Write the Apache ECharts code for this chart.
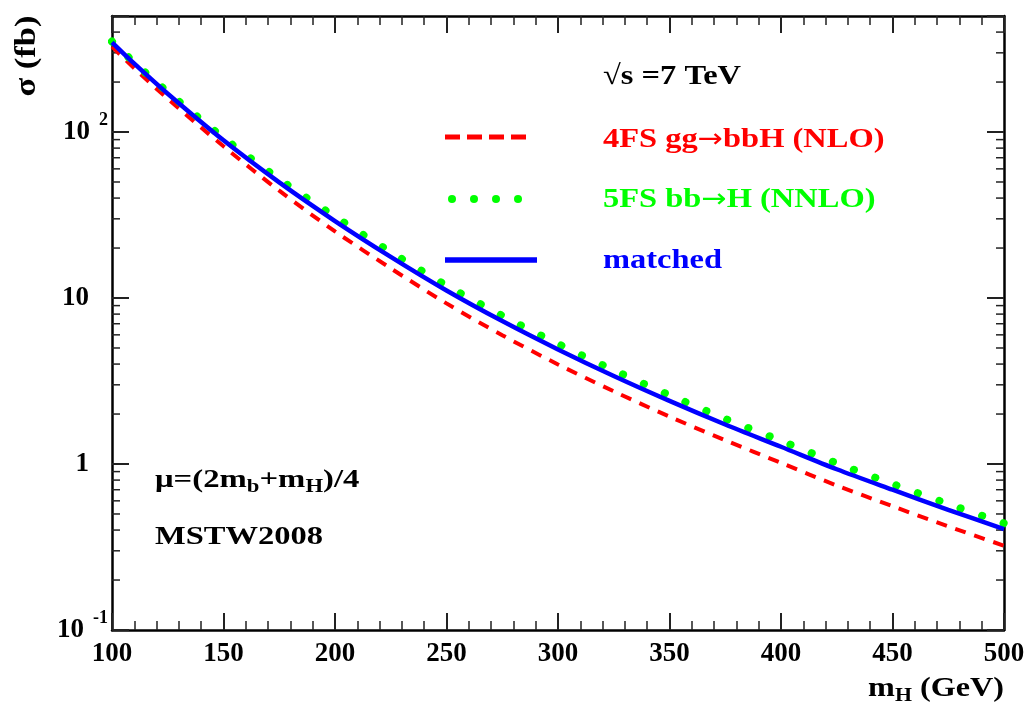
<!DOCTYPE html>
<html>
<head>
    <meta charset="utf-8">
    <title>bbH cross section</title>
    <script src="https://cdn.jsdelivr.net/npm/echarts@6/dist/echarts.min.js"></script>
</head>
<body style="margin:0">
<div id="main" style="width:1029px;height:706px;"></div>
<script type="text/javascript">
    // Higgs mass points (GeV)
    var mH = [100, 110, 125, 150, 175, 200, 225, 250, 275, 300, 325, 350, 375, 400, 425, 450, 475, 500];
    // sigma (fb)
    var sig4FS = [327, 242, 158.6, 82.0, 44.3, 25.2, 15.1, 9.28, 5.97, 3.98, 2.74, 1.93, 1.39, 1.016, 0.742, 0.557, 0.421, 0.322];
    var sig5FS = [351, 262, 174, 92.2, 52.0, 30.9, 18.9, 11.9, 7.82, 5.29, 3.67, 2.60, 1.87, 1.38, 1.01, 0.758, 0.574, 0.439];
    var sigMatched = [347, 258, 170, 89.1, 49.7, 29.1, 17.7, 11.1, 7.26, 4.90, 3.39, 2.40, 1.73, 1.27, 0.93, 0.70, 0.53, 0.405];

    // y tick labels (base + exponent), and the minor tick values of the log axis
    var yTickVals = [0.1, 1, 10, 100];
    var yTickBase = ['10', '1', '10', '10'];
    var yTickExp = ['-1', '', '', '2'];
    var minorTickVals = [0.2, 0.3, 0.4, 0.5, 0.6, 0.7, 0.8, 0.9,
        2, 3, 4, 5, 6, 7, 8, 9,
        20, 30, 40, 50, 60, 70, 80, 90,
        200, 300, 400];

    var FONT = '"Liberation Serif", "DejaVu Serif", serif';
    var ARROW_FONT = '"DejaVu Sans", sans-serif';

    function pairs(xs, ys) {
        return xs.map(function (x, i) { return [x, ys[i]]; });
    }

    var myChart = echarts.init(document.getElementById('main'));

    var xAxisBase = {
        type: 'value', min: 100, max: 500, interval: 50,
        axisLine: {lineStyle: {color: '#000', width: 2.5}},
        axisTick: {inside: true, length: 17, lineStyle: {color: '#222', width: 2}},
        minorTick: {show: true, splitNumber: 5, length: 9, lineStyle: {color: '#222', width: 1.5}},
        splitLine: {show: false},
        minorSplitLine: {show: false}
    };
    var yAxisBase = {
        type: 'log', logBase: 10, min: 0.1, max: 500,
        axisLine: {show: true, lineStyle: {color: '#000', width: 2.5}},
        axisTick: {show: true, inside: true, length: 17, lineStyle: {color: '#222', width: 2}},
        splitLine: {show: false}
    };

    // legend-like label with a big arrow in the middle
    function arrowLabel(left, right, color) {
        return {
            text: '{a|' + left + '}{r|→}{a|' + right + '}', fill: color, verticalAlign: 'middle',
            rich: {
                a: {fontFamily: FONT, fontWeight: 'bold', fontSize: 28, fill: color},
                r: {fontFamily: ARROW_FONT, fontSize: 26, fill: color}
            }
        };
    }

    var option = {
        animation: false,
        backgroundColor: '#fff',
        grid: {left: 112, right: 25, top: 16, bottom: 76},
        xAxis: [
            Object.assign({}, xAxisBase, {
                position: 'bottom',
                axisLabel: {margin: 11, fontFamily: FONT, fontWeight: 'bold', fontSize: 27, color: '#000'}
            }),
            Object.assign({}, xAxisBase, {position: 'top', axisLabel: {show: false}})
        ],
        yAxis: [
            Object.assign({}, yAxisBase, {
                position: 'left',
                axisLabel: {
                    margin: 4,
                    formatter: function (v) {
                        for (var i = 0; i < yTickVals.length; i++) {
                            if (Math.abs(Math.log10(v) - Math.log10(yTickVals[i])) < 1e-6) {
                                return yTickExp[i] ? '{b|' + yTickBase[i] + '}{s|' + yTickExp[i] + '}'
                                    : '{b|' + yTickBase[i] + '}{p| }';
                            }
                        }
                        return '';
                    },
                    rich: {
                        b: {fontFamily: FONT, fontWeight: 'bold', fontSize: 27, color: '#000'},
                        s: {fontFamily: FONT, fontWeight: 'bold', fontSize: 18, color: '#000', padding: [0, 0, 24, 9]},
                        p: {fontSize: 18, width: 19}
                    }
                }
            }),
            Object.assign({}, yAxisBase, {position: 'right', axisLabel: {show: false}})
        ],
        graphic: [
            {type: 'text', x: 27, y: 56, rotation: Math.PI / 2, scaleX: 1.15,
                style: {text: 'σ (fb)', font: 'bold 30px ' + FONT, fill: '#000', align: 'center', verticalAlign: 'middle'}},
            {type: 'text', x: 1004, y: 689, scaleX: 1.15,
                style: {
                    text: '{a|m}{s|H}{a| (GeV)}', fill: '#000', align: 'right', verticalAlign: 'middle',
                    rich: {
                        a: {fontFamily: FONT, fontWeight: 'bold', fontSize: 28, fill: '#000'},
                        s: {fontFamily: FONT, fontWeight: 'bold', fontSize: 19, fill: '#000', padding: [14, 0, 0, 0]}
                    }
                }},
            {type: 'text', x: 603, y: 77, scaleX: 1.16,
                style: {text: '√s =7 TeV', font: 'bold 28px ' + FONT, fill: '#000', verticalAlign: 'middle'}},
            // legend
            {type: 'line', shape: {x1: 445, y1: 137, x2: 526, y2: 137},
                style: {stroke: '#ff0000', lineWidth: 5, lineDash: [15, 7]}},
            {type: 'text', x: 603, y: 140, scaleX: 1.16, style: arrowLabel('4FS gg', 'bbH (NLO)', '#ff0000')},
            {type: 'circle', shape: {cx: 452, cy: 199, r: 4}, style: {fill: '#00ff00'}},
            {type: 'circle', shape: {cx: 474, cy: 199, r: 4}, style: {fill: '#00ff00'}},
            {type: 'circle', shape: {cx: 496, cy: 199, r: 4}, style: {fill: '#00ff00'}},
            {type: 'circle', shape: {cx: 518, cy: 199, r: 4}, style: {fill: '#00ff00'}},
            {type: 'text', x: 603, y: 200, scaleX: 1.16, style: arrowLabel('5FS bb', 'H (NNLO)', '#00ff00')},
            {type: 'line', shape: {x1: 445, y1: 260, x2: 537, y2: 260},
                style: {stroke: '#0000ff', lineWidth: 5.5}},
            {type: 'text', x: 603, y: 261, scaleX: 1.16,
                style: {text: 'matched', font: 'bold 28px ' + FONT, fill: '#0000ff', verticalAlign: 'middle'}},
            // scale / pdf notes
            {type: 'text', x: 155, y: 480, scaleX: 1.26,
                style: {
                    text: '{a|μ=(2m}{s|b}{a|+m}{s|H}{a|)/4}', fill: '#000', verticalAlign: 'middle',
                    rich: {
                        a: {fontFamily: FONT, fontWeight: 'bold', fontSize: 26, fill: '#000'},
                        s: {fontFamily: FONT, fontWeight: 'bold', fontSize: 18, fill: '#000', padding: [14, 0, 0, 0]}
                    }
                }},
            {type: 'text', x: 155, y: 537, scaleX: 1.25,
                style: {text: 'MSTW2008', font: 'bold 26px ' + FONT, fill: '#000', verticalAlign: 'middle'}}
        ],
        series: [
            {
                name: '4FS gg→bbH (NLO)', type: 'line', smooth: 0.3, showSymbol: false,
                data: pairs(mH, sig4FS),
                lineStyle: {color: '#ff0000', width: 4, type: [11, 9]}
            },
            {
                name: '5FS bb→H (NNLO)', type: 'line', smooth: 0.3, showSymbol: false,
                data: pairs(mH, sig5FS),
                lineStyle: {color: '#00ff00', width: 8, type: [0.1, 22.6], cap: 'round'}
            },
            {
                name: 'matched', type: 'line', smooth: 0.3, showSymbol: false,
                data: pairs(mH, sigMatched),
                lineStyle: {color: '#0000ff', width: 4.5}
            },
            {
                // minor ticks for the log axes (left and right)
                type: 'custom', clip: false, silent: true,
                data: minorTickVals.map(function (v) { return [100, v]; }),
                renderItem: function (params, api) {
                    var v = api.value(1);
                    var pL = api.coord([100, v]);
                    var pR = api.coord([500, v]);
                    return {
                        type: 'group',
                        children: [
                            {type: 'line', shape: {x1: pL[0], y1: pL[1], x2: pL[0] + 8, y2: pL[1]},
                                style: {stroke: '#222', lineWidth: 1.5}},
                            {type: 'line', shape: {x1: pR[0] - 8, y1: pR[1], x2: pR[0], y2: pR[1]},
                                style: {stroke: '#222', lineWidth: 1.5}}
                        ]
                    };
                }
            }
        ]
    };
    myChart.setOption(option);
</script>
</body>
</html>
